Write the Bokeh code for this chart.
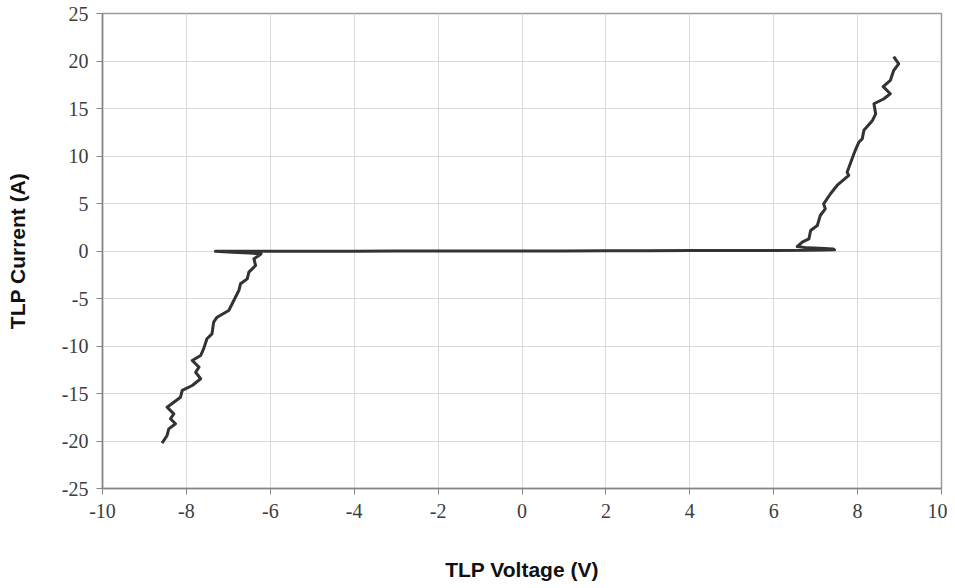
from bokeh.plotting import figure
from bokeh.models import FixedTicker, Range1d, CustomJSTickFormatter
from bokeh.embed import file_html
from bokeh.resources import INLINE

# Positive TLP sweep (voltage V, current A)
pos_voltage = [0, 1, 2, 3, 4, 5, 6, 6.8, 7.2, 7.45, 7.42, 7.1, 6.8, 6.56,
               6.68, 6.84, 6.88, 7.04, 7.11, 7.23, 7.19, 7.35, 7.51, 7.79, 7.75,
               7.91, 7.95, 8.03, 8.11, 8.15, 8.35, 8.43, 8.39, 8.62, 8.78, 8.61,
               8.78, 8.86, 8.98, 8.86]
pos_current = [0, 0.01, 0.02, 0.03, 0.04, 0.05, 0.06, 0.08, 0.1, 0.12, 0.22, 0.28, 0.33, 0.47,
               0.93, 1.28, 2.16, 2.68, 3.74, 4.44, 4.97, 6.0, 6.9, 7.95, 8.3,
               10.2, 10.65, 11.45, 11.8, 12.7, 13.7, 14.44, 15.5, 16.0, 16.55, 17.3,
               17.95, 19.0, 19.7, 20.47]

# Negative TLP sweep
neg_voltage = [0, -1, -2, -3, -4, -5, -6, -7, -7.31, -6.9, -6.5, -6.22, -6.27,
               -6.39, -6.35, -6.51, -6.55, -6.71, -6.75, -6.87, -6.99, -7.27, -7.35,
               -7.39, -7.51, -7.59, -7.66, -7.86, -7.70, -7.78, -7.66, -7.86, -8.1,
               -8.14, -8.46, -8.3, -8.38, -8.26, -8.42, -8.46, -8.58]
neg_current = [0, -0.005, -0.01, -0.01, -0.015, -0.02, -0.02, -0.025, -0.03, -0.12, -0.22, -0.3, -0.47,
               -0.82, -1.53, -2.23, -2.93, -3.45, -4.16, -5.21, -6.26, -6.97, -7.49,
               -8.72, -9.24, -10.3, -11.0, -11.53, -12.23, -12.76, -13.45, -14.16, -14.68,
               -15.39, -16.44, -17.14, -17.66, -18.19, -18.72, -19.42, -20.23]

x_ticks = [-10, -8, -6, -4, -2, 0, 2, 4, 6, 8, 10]
y_ticks = [-25, -20, -15, -10, -5, 0, 5, 10, 15, 20, 25]

p = figure(width=947, height=587, output_backend="svg", toolbar_location=None,
           x_range=Range1d(-10, 10), y_range=Range1d(-25, 25),
           min_border_left=102, min_border_right=6, min_border_top=13, min_border_bottom=99)

line_color = "#333333"
p.line(pos_voltage, pos_current, line_color=line_color, line_width=3, line_join="round")
p.line(neg_voltage, neg_current, line_color=line_color, line_width=3, line_join="round")

p.xaxis.ticker = FixedTicker(ticks=x_ticks)
p.yaxis.ticker = FixedTicker(ticks=y_ticks)
p.xaxis.formatter = CustomJSTickFormatter(code="return String(tick);")
p.yaxis.formatter = CustomJSTickFormatter(code="return String(tick);")
p.xaxis.minor_tick_line_color = None
p.yaxis.minor_tick_line_color = None

for ax in (p.xaxis, p.yaxis):
    ax.major_tick_in = 0
    ax.major_tick_out = 6
    ax.axis_line_color = "#858585"
    ax.axis_line_width = 1.5
    ax.major_tick_line_color = "#858585"
    ax.major_label_text_font = "Liberation Serif"
    ax.major_label_text_font_size = "20px"
    ax.major_label_text_color = "#3c3c3c"
    ax.axis_label_text_font = "Liberation Sans"
    ax.axis_label_text_font_style = "bold"
    ax.axis_label_text_font_size = "21px"
    ax.axis_label_text_color = "#111111"

p.xaxis.axis_label = "TLP Voltage (V)"
p.yaxis.axis_label = "TLP Current (A)"
p.xaxis.major_label_standoff = 9
p.xaxis.axis_label_standoff = 37
p.yaxis.major_label_standoff = 8
p.yaxis.axis_label_standoff = 30

p.grid.grid_line_color = "#d9d9d9"
p.grid.grid_line_width = 1
p.outline_line_color = "#9a9a9a"
p.outline_line_width = 1.5
p.background_fill_color = "white"
p.border_fill_color = "white"

open("out.html", "w").write(file_html(p, INLINE))
